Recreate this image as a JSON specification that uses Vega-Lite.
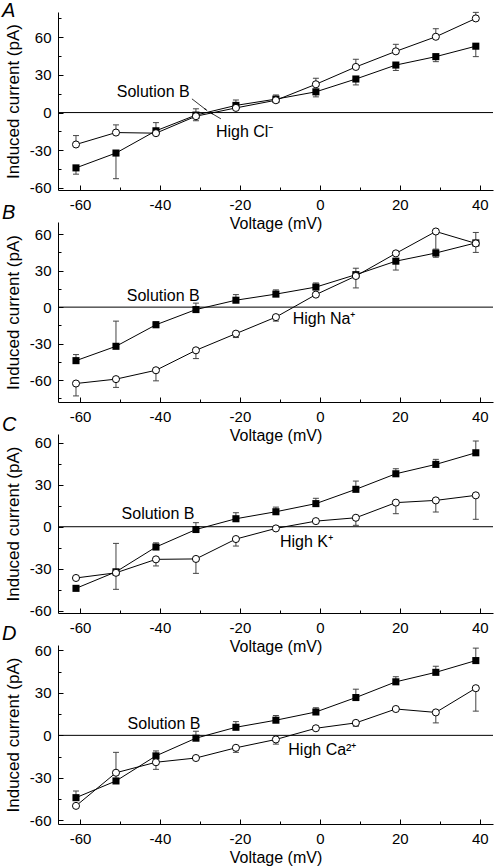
{
  "$schema": "https://vega.github.io/schema/vega-lite/v6.json",
  "background": "white",
  "padding": {"left": 2, "top": 0, "right": 0, "bottom": 0},
  "bounds": "flush",
  "spacing": 32,
  "config": {
    "view": {"stroke": null},
    "font": "Liberation Sans",
    "axis": {"grid": false, "domainColor": "#000", "tickColor": "#000", "labelColor": "#000", "titleColor": "#000", "labelFont": "Liberation Sans", "titleFont": "Liberation Sans", "labelFontSize": 15, "titleFontSize": 16, "titleFontWeight": "normal", "domainWidth": 1, "tickWidth": 1, "labelFlush": false, "labelOverlap": false},
    "text": {"font": "Liberation Sans", "fontSize": 16, "color": "#000"}
  },
  "datasets": {
    "pts": [
      {"p":"A","s":"B","v":-61,"i":-44,"e":-49},
      {"p":"A","s":"B","v":-51,"i":-32.2,"e":-52.6},
      {"p":"A","s":"B","v":-41,"i":-14.5,"e":-8},
      {"p":"A","s":"B","v":-31,"i":-2,"e":3},
      {"p":"A","s":"B","v":-21,"i":5.7,"e":10},
      {"p":"A","s":"B","v":-11,"i":10.7,"e":14},
      {"p":"A","s":"B","v":-1,"i":16.5,"e":12.5},
      {"p":"A","s":"B","v":9,"i":26.7,"e":22},
      {"p":"A","s":"B","v":19,"i":37.8,"e":33.5},
      {"p":"A","s":"B","v":29,"i":44.5,"e":40.5},
      {"p":"A","s":"B","v":39,"i":52.8,"e":44.5},
      {"p":"A","s":"X","v":-61,"i":-25.4,"e":-18.3},
      {"p":"A","s":"X","v":-51,"i":-15.9,"e":-9.8},
      {"p":"A","s":"X","v":-41,"i":-16.4,"e":null},
      {"p":"A","s":"X","v":-31,"i":-2.9,"e":-6.5},
      {"p":"A","s":"X","v":-21,"i":3.7,"e":null},
      {"p":"A","s":"X","v":-11,"i":9.8,"e":null},
      {"p":"A","s":"X","v":-1,"i":22.5,"e":27.3},
      {"p":"A","s":"X","v":9,"i":36.3,"e":42.4},
      {"p":"A","s":"X","v":19,"i":48.7,"e":54.3},
      {"p":"A","s":"X","v":29,"i":60.3,"e":66.7},
      {"p":"A","s":"X","v":39,"i":74.9,"e":79.7},

      {"p":"B","s":"B","v":-61,"i":-44,"e":-39},
      {"p":"B","s":"B","v":-51,"i":-32.2,"e":-11.5},
      {"p":"B","s":"B","v":-41,"i":-14.5,"e":-12},
      {"p":"B","s":"B","v":-31,"i":-2,"e":3.3},
      {"p":"B","s":"B","v":-21,"i":5.7,"e":10.3},
      {"p":"B","s":"B","v":-11,"i":10.7,"e":14.2},
      {"p":"B","s":"B","v":-1,"i":16.5,"e":19.9},
      {"p":"B","s":"B","v":9,"i":26.7,"e":32},
      {"p":"B","s":"B","v":19,"i":37.8,"e":30.5},
      {"p":"B","s":"B","v":29,"i":44.5,"e":41},
      {"p":"B","s":"B","v":39,"i":52.8,"e":61.4},
      {"p":"B","s":"X","v":-61,"i":-62.8,"e":-73},
      {"p":"B","s":"X","v":-51,"i":-59.2,"e":-66},
      {"p":"B","s":"X","v":-41,"i":-51.9,"e":-60.6},
      {"p":"B","s":"X","v":-31,"i":-35.5,"e":-42.3},
      {"p":"B","s":"X","v":-21,"i":-21.8,"e":-25},
      {"p":"B","s":"X","v":-11,"i":-8.2,"e":-11.5},
      {"p":"B","s":"X","v":-1,"i":10.3,"e":null},
      {"p":"B","s":"X","v":9,"i":25.6,"e":15.8},
      {"p":"B","s":"X","v":19,"i":44.2,"e":null},
      {"p":"B","s":"X","v":29,"i":62.2,"e":47.7},
      {"p":"B","s":"X","v":39,"i":52.4,"e":45},

      {"p":"C","s":"B","v":-61,"i":-44,"e":null},
      {"p":"C","s":"B","v":-51,"i":-32.2,"e":-11.9},
      {"p":"C","s":"B","v":-41,"i":-14.5,"e":-11.5},
      {"p":"C","s":"B","v":-31,"i":-2,"e":2.9},
      {"p":"C","s":"B","v":-21,"i":5.7,"e":10},
      {"p":"C","s":"B","v":-11,"i":10.7,"e":14},
      {"p":"C","s":"B","v":-1,"i":16.5,"e":20.3},
      {"p":"C","s":"B","v":9,"i":26.7,"e":32.6},
      {"p":"C","s":"B","v":19,"i":37.8,"e":41.4},
      {"p":"C","s":"B","v":29,"i":44.5,"e":48.1},
      {"p":"C","s":"B","v":39,"i":52.8,"e":61.2},
      {"p":"C","s":"X","v":-61,"i":-36.6,"e":null},
      {"p":"C","s":"X","v":-51,"i":-32.9,"e":-44.7},
      {"p":"C","s":"X","v":-41,"i":-23.3,"e":-28},
      {"p":"C","s":"X","v":-31,"i":-23,"e":-33.3},
      {"p":"C","s":"X","v":-21,"i":-8.8,"e":-13.8},
      {"p":"C","s":"X","v":-11,"i":-1.2,"e":null},
      {"p":"C","s":"X","v":-1,"i":4,"e":null},
      {"p":"C","s":"X","v":9,"i":6.4,"e":1},
      {"p":"C","s":"X","v":19,"i":17.2,"e":9.3},
      {"p":"C","s":"X","v":29,"i":18.8,"e":10.5},
      {"p":"C","s":"X","v":39,"i":22.4,"e":5.3},

      {"p":"D","s":"B","v":-61,"i":-44,"e":-39.3},
      {"p":"D","s":"B","v":-51,"i":-32.2,"e":-12},
      {"p":"D","s":"B","v":-41,"i":-14.5,"e":-11},
      {"p":"D","s":"B","v":-31,"i":-2,"e":2.9},
      {"p":"D","s":"B","v":-21,"i":5.7,"e":9.7},
      {"p":"D","s":"B","v":-11,"i":10.7,"e":14},
      {"p":"D","s":"B","v":-1,"i":16.5,"e":19.5},
      {"p":"D","s":"B","v":9,"i":26.7,"e":32.6},
      {"p":"D","s":"B","v":19,"i":37.8,"e":41.4},
      {"p":"D","s":"B","v":29,"i":44.5,"e":48.8},
      {"p":"D","s":"B","v":39,"i":52.8,"e":61.6},
      {"p":"D","s":"X","v":-61,"i":-49.8,"e":null},
      {"p":"D","s":"X","v":-51,"i":-26.4,"e":null},
      {"p":"D","s":"X","v":-41,"i":-19,"e":-24},
      {"p":"D","s":"X","v":-31,"i":-16,"e":null},
      {"p":"D","s":"X","v":-21,"i":-8.8,"e":-12},
      {"p":"D","s":"X","v":-11,"i":-2.9,"e":-6.2},
      {"p":"D","s":"X","v":-1,"i":5,"e":null},
      {"p":"D","s":"X","v":9,"i":8.8,"e":6.4},
      {"p":"D","s":"X","v":19,"i":18.6,"e":null},
      {"p":"D","s":"X","v":29,"i":16.2,"e":8.8},
      {"p":"D","s":"X","v":39,"i":33.3,"e":17.1}
    ]
  },
  "vconcat": [
    {
      "width": 435, "height": 178,
      "title": {"text": "A", "anchor": "start", "frame": "group", "dx": -56, "offset": -25, "baseline": "alphabetic", "fontSize": 20, "fontStyle": "italic", "fontWeight": "normal", "font": "Liberation Sans", "color": "#000"},
      "data": {"name": "pts"},
      "transform": [{"filter": "datum.p == 'A'"}],
      "resolve": {"axis": {"x": "independent", "y": "independent"}},
      "layer": [
        {"mark": {"type": "line", "color": "#000", "strokeWidth": 1},
         "encoding": {
           "x": {"field": "v", "type": "quantitative", "scale": {"domain": [-65.5, 43.3], "nice": false, "zero": false}, "axis": {"orient": "bottom", "values": [-60, -40, -20, 0, 20, 40], "title": "Voltage (mV)", "tickSize": -5, "labelPadding": 12, "labelExpr": "'' + datum.value", "titleY": 38.5, "titleBaseline": "alphabetic"}},
           "y": {"field": "i", "type": "quantitative", "scale": {"domain": [-61.6, 80], "nice": false, "zero": false}, "axis": {"orient": "left", "values": [-60, -30, 0, 30, 60], "title": "Induced current (pA)", "tickSize": -5, "labelPadding": 12, "labelExpr": "'' + datum.value", "titleX": -36, "titleFontSize": 17}},
           "detail": {"field": "s"}}},
        {"transform": [{"filter": "isValid(datum.e)"}],
         "mark": {"type": "rule", "color": "#444", "strokeWidth": 1},
         "encoding": {
           "x": {"field": "v", "type": "quantitative", "axis": {"orient": "bottom", "values": [-50, -30, -10, 10, 30], "tickSize": -3, "labels": false, "domain": false, "title": null}},
           "y": {"field": "i", "type": "quantitative", "axis": {"orient": "left", "values": [-45, -15, 15, 45, 75], "tickSize": -3, "labels": false, "domain": false, "title": null}},
           "y2": {"field": "e"}}},
        {"transform": [{"filter": "isValid(datum.e)"}],
         "mark": {"type": "tick", "orient": "horizontal", "size": 6, "thickness": 1, "color": "#444", "opacity": 1},
         "encoding": {"x": {"field": "v", "type": "quantitative", "axis": null}, "y": {"field": "e", "type": "quantitative", "axis": null}}},
        {"data": {"values": [{"p": "A"}]}, "mark": {"type": "rule", "color": "#000", "strokeWidth": 1}, "encoding": {"y": {"datum": 0, "type": "quantitative", "axis": null}}},
        {"transform": [{"filter": "datum.s == 'B'"}],
         "mark": {"type": "point", "shape": "square", "filled": true, "color": "#000", "size": 50, "opacity": 1},
         "encoding": {"x": {"field": "v", "type": "quantitative", "axis": null}, "y": {"field": "i", "type": "quantitative", "axis": null}}},
        {"transform": [{"filter": "datum.s == 'X'"}],
         "mark": {"type": "point", "shape": "circle", "fill": "#fff", "stroke": "#000", "strokeWidth": 1, "size": 50, "opacity": 1, "fillOpacity": 1},
         "encoding": {"x": {"field": "v", "type": "quantitative", "axis": null}, "y": {"field": "i", "type": "quantitative", "axis": null}}},
        {"data": {"values": [{"p": "A"}]}, "mark": {"type": "text", "text": "Solution B", "align": "left", "baseline": "alphabetic", "fontSize": 16}, "encoding": {"x": {"datum": -50.8, "type": "quantitative", "axis": null}, "y": {"datum": 12.2, "type": "quantitative", "axis": null}}},
        {"data": {"values": [{"p": "A"}]}, "mark": {"type": "text", "text": "High Cl⁻", "align": "left", "baseline": "alphabetic", "fontSize": 16}, "encoding": {"x": {"datum": -26, "type": "quantitative", "axis": null}, "y": {"datum": -19.3, "type": "quantitative", "axis": null}}},
        {"data": {"values": [{"p": "A"}]}, "mark": {"type": "rule", "color": "#000", "strokeWidth": 0.8}, "encoding": {"x": {"datum": -32, "type": "quantitative", "axis": null}, "y": {"datum": 10.9, "type": "quantitative", "axis": null}, "x2": {"datum": -28.3}, "y2": {"datum": 1.8}}},
        {"data": {"values": [{"p": "A"}]}, "mark": {"type": "rule", "color": "#000", "strokeWidth": 0.8}, "encoding": {"x": {"datum": -24.75, "type": "quantitative", "axis": null}, "y": {"datum": -5, "type": "quantitative", "axis": null}, "x2": {"datum": -27.4}, "y2": {"datum": 0}}},
        {"data": {"values": [{"p": "A"}]}, "mark": {"type": "point", "shape": "wedge", "filled": true, "color": "#000", "size": 22, "angle": 127, "opacity": 1}, "encoding": {"x": {"datum": -28.6, "type": "quantitative", "axis": null}, "y": {"datum": 2.6, "type": "quantitative", "axis": null}}},
        {"data": {"values": [{"p": "A"}]}, "mark": {"type": "point", "shape": "wedge", "filled": true, "color": "#000", "size": 22, "angle": 300, "opacity": 1}, "encoding": {"x": {"datum": -27.1, "type": "quantitative", "axis": null}, "y": {"datum": -0.5, "type": "quantitative", "axis": null}}}
      ]
    },
    {
      "width": 435, "height": 180,
      "title": {"text": "B", "anchor": "start", "frame": "group", "dx": -56, "offset": -17, "baseline": "alphabetic", "fontSize": 20, "fontStyle": "italic", "fontWeight": "normal", "font": "Liberation Sans", "color": "#000"},
      "data": {"name": "pts"},
      "transform": [{"filter": "datum.p == 'B'"}],
      "resolve": {"axis": {"x": "independent", "y": "independent"}},
      "layer": [
        {"mark": {"type": "line", "color": "#000", "strokeWidth": 1},
         "encoding": {
           "x": {"field": "v", "type": "quantitative", "scale": {"domain": [-65.5, 43.3], "nice": false, "zero": false}, "axis": {"orient": "bottom", "values": [-60, -40, -20, 0, 20, 40], "title": "Voltage (mV)", "tickSize": -5, "labelPadding": 12, "labelExpr": "'' + datum.value", "titleY": 38.5, "titleBaseline": "alphabetic"}},
           "y": {"field": "i", "type": "quantitative", "scale": {"domain": [-78, 70], "nice": false, "zero": false}, "axis": {"orient": "left", "values": [-60, -30, 0, 30, 60], "title": "Induced current (pA)", "tickSize": -5, "labelPadding": 12, "labelExpr": "'' + datum.value", "titleX": -36, "titleFontSize": 17}},
           "detail": {"field": "s"}}},
        {"transform": [{"filter": "isValid(datum.e)"}],
         "mark": {"type": "rule", "color": "#444", "strokeWidth": 1},
         "encoding": {
           "x": {"field": "v", "type": "quantitative", "axis": {"orient": "bottom", "values": [-50, -30, -10, 10, 30], "tickSize": -3, "labels": false, "domain": false, "title": null}},
           "y": {"field": "i", "type": "quantitative", "axis": {"orient": "left", "values": [-75, -45, -15, 15, 45], "tickSize": -3, "labels": false, "domain": false, "title": null}},
           "y2": {"field": "e"}}},
        {"transform": [{"filter": "isValid(datum.e)"}],
         "mark": {"type": "tick", "orient": "horizontal", "size": 6, "thickness": 1, "color": "#444", "opacity": 1},
         "encoding": {"x": {"field": "v", "type": "quantitative", "axis": null}, "y": {"field": "e", "type": "quantitative", "axis": null}}},
        {"data": {"values": [{"p": "B"}]}, "mark": {"type": "rule", "color": "#000", "strokeWidth": 1}, "encoding": {"y": {"datum": 0, "type": "quantitative", "axis": null}}},
        {"transform": [{"filter": "datum.s == 'B'"}],
         "mark": {"type": "point", "shape": "square", "filled": true, "color": "#000", "size": 50, "opacity": 1},
         "encoding": {"x": {"field": "v", "type": "quantitative", "axis": null}, "y": {"field": "i", "type": "quantitative", "axis": null}}},
        {"transform": [{"filter": "datum.s == 'X'"}],
         "mark": {"type": "point", "shape": "circle", "fill": "#fff", "stroke": "#000", "strokeWidth": 1, "size": 50, "opacity": 1, "fillOpacity": 1},
         "encoding": {"x": {"field": "v", "type": "quantitative", "axis": null}, "y": {"field": "i", "type": "quantitative", "axis": null}}},
        {"data": {"values": [{"p": "B"}]}, "mark": {"type": "text", "text": "Solution B", "align": "left", "baseline": "alphabetic", "fontSize": 16}, "encoding": {"x": {"datum": -48.3, "type": "quantitative", "axis": null}, "y": {"datum": 4.9, "type": "quantitative", "axis": null}}},
        {"data": {"values": [{"p": "B"}]}, "mark": {"type": "text", "text": "High Na⁺", "align": "left", "baseline": "alphabetic", "fontSize": 16}, "encoding": {"x": {"datum": -6.8, "type": "quantitative", "axis": null}, "y": {"datum": -13.7, "type": "quantitative", "axis": null}}}
      ]
    },
    {
      "width": 435, "height": 179,
      "title": {"text": "C", "anchor": "start", "frame": "group", "dx": -56, "offset": -17, "baseline": "alphabetic", "fontSize": 20, "fontStyle": "italic", "fontWeight": "normal", "font": "Liberation Sans", "color": "#000"},
      "data": {"name": "pts"},
      "transform": [{"filter": "datum.p == 'C'"}],
      "resolve": {"axis": {"x": "independent", "y": "independent"}},
      "layer": [
        {"mark": {"type": "line", "color": "#000", "strokeWidth": 1},
         "encoding": {
           "x": {"field": "v", "type": "quantitative", "scale": {"domain": [-65.5, 43.3], "nice": false, "zero": false}, "axis": {"orient": "bottom", "values": [-60, -40, -20, 0, 20, 40], "title": "Voltage (mV)", "tickSize": -5, "labelPadding": 12, "labelExpr": "'' + datum.value", "titleY": 38.5, "titleBaseline": "alphabetic"}},
           "y": {"field": "i", "type": "quantitative", "scale": {"domain": [-61.6, 66.2], "nice": false, "zero": false}, "axis": {"orient": "left", "values": [-60, -30, 0, 30, 60], "title": "Induced current (pA)", "tickSize": -5, "labelPadding": 12, "labelExpr": "'' + datum.value", "titleX": -36, "titleFontSize": 17}},
           "detail": {"field": "s"}}},
        {"transform": [{"filter": "isValid(datum.e)"}],
         "mark": {"type": "rule", "color": "#444", "strokeWidth": 1},
         "encoding": {
           "x": {"field": "v", "type": "quantitative", "axis": {"orient": "bottom", "values": [-50, -30, -10, 10, 30], "tickSize": -3, "labels": false, "domain": false, "title": null}},
           "y": {"field": "i", "type": "quantitative", "axis": {"orient": "left", "values": [-45, -15, 15, 45], "tickSize": -3, "labels": false, "domain": false, "title": null}},
           "y2": {"field": "e"}}},
        {"transform": [{"filter": "isValid(datum.e)"}],
         "mark": {"type": "tick", "orient": "horizontal", "size": 6, "thickness": 1, "color": "#444", "opacity": 1},
         "encoding": {"x": {"field": "v", "type": "quantitative", "axis": null}, "y": {"field": "e", "type": "quantitative", "axis": null}}},
        {"data": {"values": [{"p": "C"}]}, "mark": {"type": "rule", "color": "#000", "strokeWidth": 1}, "encoding": {"y": {"datum": 0, "type": "quantitative", "axis": null}}},
        {"transform": [{"filter": "datum.s == 'B'"}],
         "mark": {"type": "point", "shape": "square", "filled": true, "color": "#000", "size": 50, "opacity": 1},
         "encoding": {"x": {"field": "v", "type": "quantitative", "axis": null}, "y": {"field": "i", "type": "quantitative", "axis": null}}},
        {"transform": [{"filter": "datum.s == 'X'"}],
         "mark": {"type": "point", "shape": "circle", "fill": "#fff", "stroke": "#000", "strokeWidth": 1, "size": 50, "opacity": 1, "fillOpacity": 1},
         "encoding": {"x": {"field": "v", "type": "quantitative", "axis": null}, "y": {"field": "i", "type": "quantitative", "axis": null}}},
        {"data": {"values": [{"p": "C"}]}, "mark": {"type": "text", "text": "Solution B", "align": "left", "baseline": "alphabetic", "fontSize": 16}, "encoding": {"x": {"datum": -49.6, "type": "quantitative", "axis": null}, "y": {"datum": 5.3, "type": "quantitative", "axis": null}}},
        {"data": {"values": [{"p": "C"}]}, "mark": {"type": "text", "text": "High K⁺", "align": "left", "baseline": "alphabetic", "fontSize": 16}, "encoding": {"x": {"datum": -10, "type": "quantitative", "axis": null}, "y": {"datum": -14.3, "type": "quantitative", "axis": null}}}
      ]
    },
    {
      "width": 435, "height": 179,
      "title": {"text": "D", "anchor": "start", "frame": "group", "dx": -56, "offset": -17, "baseline": "alphabetic", "fontSize": 20, "fontStyle": "italic", "fontWeight": "normal", "font": "Liberation Sans", "color": "#000"},
      "data": {"name": "pts"},
      "transform": [{"filter": "datum.p == 'D'"}],
      "resolve": {"axis": {"x": "independent", "y": "independent"}},
      "layer": [
        {"mark": {"type": "line", "color": "#000", "strokeWidth": 1},
         "encoding": {
           "x": {"field": "v", "type": "quantitative", "scale": {"domain": [-65.5, 43.3], "nice": false, "zero": false}, "axis": {"orient": "bottom", "values": [-60, -40, -20, 0, 20, 40], "title": "Voltage (mV)", "tickSize": -5, "labelPadding": 12, "labelExpr": "'' + datum.value", "titleY": 38.5, "titleBaseline": "alphabetic"}},
           "y": {"field": "i", "type": "quantitative", "scale": {"domain": [-62.6, 63.8], "nice": false, "zero": false}, "axis": {"orient": "left", "values": [-60, -30, 0, 30, 60], "title": "Induced current (pA)", "tickSize": -5, "labelPadding": 12, "labelExpr": "'' + datum.value", "titleX": -36, "titleFontSize": 17}},
           "detail": {"field": "s"}}},
        {"transform": [{"filter": "isValid(datum.e)"}],
         "mark": {"type": "rule", "color": "#444", "strokeWidth": 1},
         "encoding": {
           "x": {"field": "v", "type": "quantitative", "axis": {"orient": "bottom", "values": [-50, -30, -10, 10, 30], "tickSize": -3, "labels": false, "domain": false, "title": null}},
           "y": {"field": "i", "type": "quantitative", "axis": {"orient": "left", "values": [-45, -15, 15, 45], "tickSize": -3, "labels": false, "domain": false, "title": null}},
           "y2": {"field": "e"}}},
        {"transform": [{"filter": "isValid(datum.e)"}],
         "mark": {"type": "tick", "orient": "horizontal", "size": 6, "thickness": 1, "color": "#444", "opacity": 1},
         "encoding": {"x": {"field": "v", "type": "quantitative", "axis": null}, "y": {"field": "e", "type": "quantitative", "axis": null}}},
        {"data": {"values": [{"p": "D"}]}, "mark": {"type": "rule", "color": "#000", "strokeWidth": 1}, "encoding": {"y": {"datum": 0, "type": "quantitative", "axis": null}}},
        {"transform": [{"filter": "datum.s == 'B'"}],
         "mark": {"type": "point", "shape": "square", "filled": true, "color": "#000", "size": 50, "opacity": 1},
         "encoding": {"x": {"field": "v", "type": "quantitative", "axis": null}, "y": {"field": "i", "type": "quantitative", "axis": null}}},
        {"transform": [{"filter": "datum.s == 'X'"}],
         "mark": {"type": "point", "shape": "circle", "fill": "#fff", "stroke": "#000", "strokeWidth": 1, "size": 50, "opacity": 1, "fillOpacity": 1},
         "encoding": {"x": {"field": "v", "type": "quantitative", "axis": null}, "y": {"field": "i", "type": "quantitative", "axis": null}}},
        {"data": {"values": [{"p": "D"}]}, "mark": {"type": "text", "text": "Solution B", "align": "left", "baseline": "alphabetic", "fontSize": 16}, "encoding": {"x": {"datum": -48.1, "type": "quantitative", "axis": null}, "y": {"datum": 4.5, "type": "quantitative", "axis": null}}},
        {"data": {"values": [{"p": "D"}]}, "mark": {"type": "text", "text": "High Ca²⁺", "align": "left", "baseline": "alphabetic", "fontSize": 16}, "encoding": {"x": {"datum": -7.9, "type": "quantitative", "axis": null}, "y": {"datum": -13.9, "type": "quantitative", "axis": null}}}
      ]
    }
  ]
}
